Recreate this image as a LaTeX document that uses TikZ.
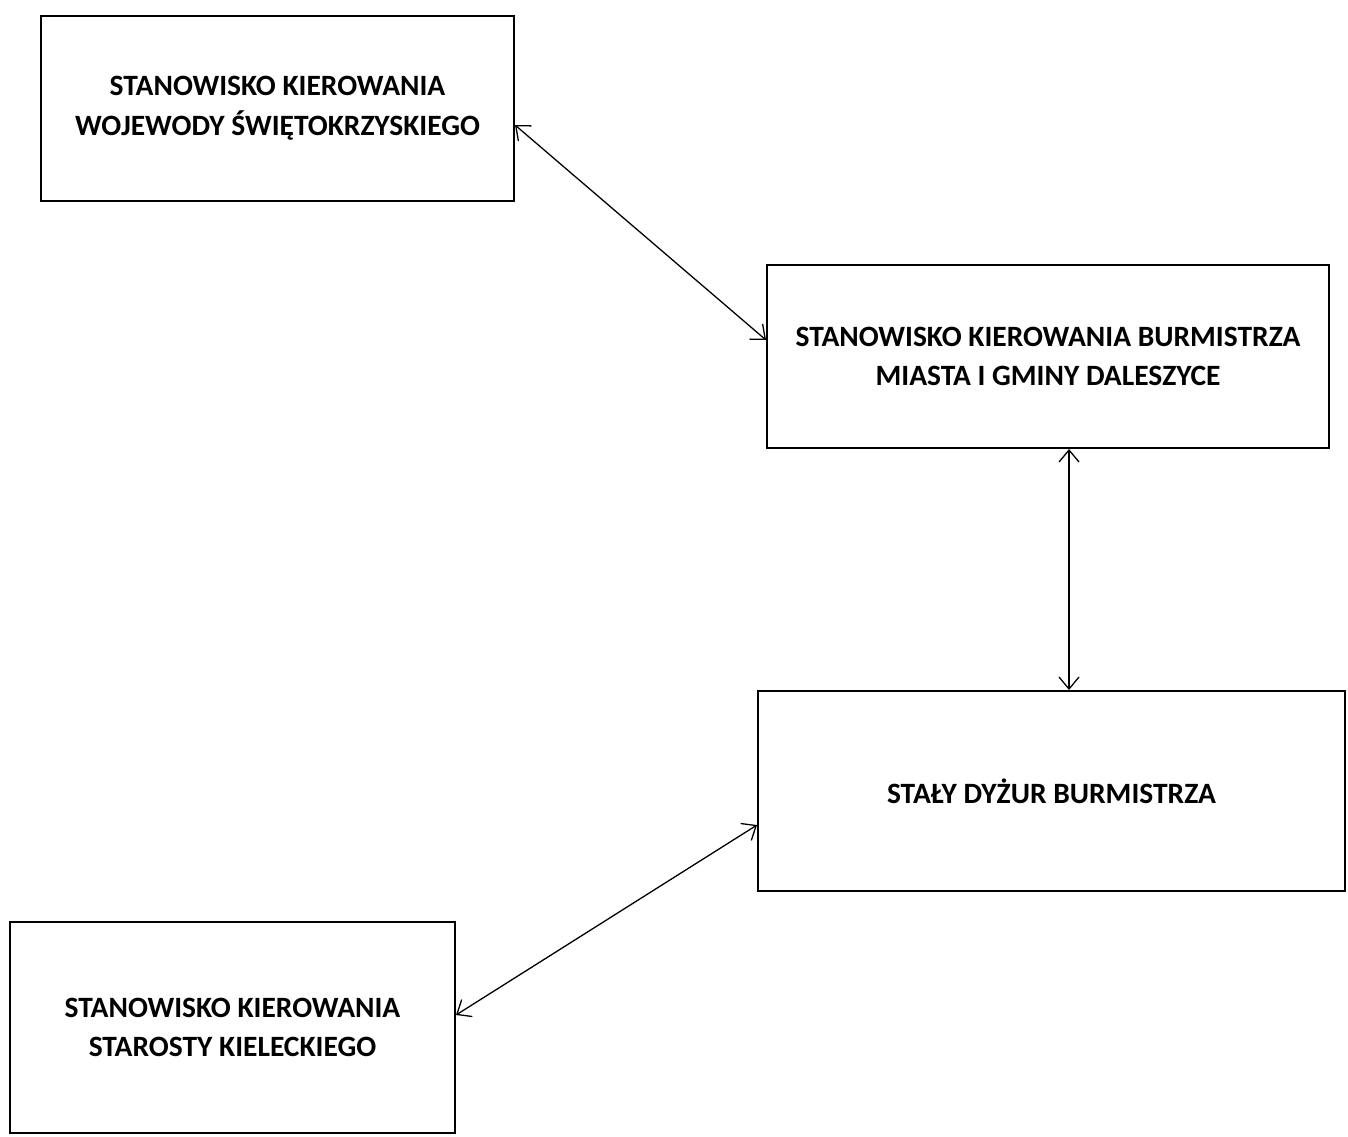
\documentclass[tikz,border=0pt]{standalone}
\usepackage{fontspec}
\setmainfont{Carlito}
\usetikzlibrary{arrows.meta}
\begin{document}
\begin{tikzpicture}[x=1pt,y=-1pt,
  box/.style={draw,line width=2pt,inner sep=0pt,align=center,
    font=\fontsize{29.5}{39.5}\selectfont\bfseries},
  link/.style={line width=1.3pt,{Straight Barb[length=12pt,width=20pt,line width=1.3pt]}-{Straight Barb[length=12pt,width=20pt,line width=1.3pt]}}]
\useasboundingbox (0,0) rectangle (1348,1136);
\node[box,minimum width=473pt,minimum height=185pt] (b1) at (277.5,108) {STANOWISKO KIEROWANIA\\WOJEWODY ŚWIĘTOKRZYSKIEGO};
\node[box,minimum width=562pt,minimum height=183pt] (b2) at (1048,356.5) {STANOWISKO KIEROWANIA BURMISTRZA\\MIASTA I GMINY DALESZYCE};
\node[box,minimum width=587pt,minimum height=200pt] (b3) at (1051.5,791) {STAŁY DYŻUR BURMISTRZA};
\node[box,minimum width=445pt,minimum height=211pt] (b4) at (232.5,1027.5) {STANOWISKO KIEROWANIA\\STAROSTY KIELECKIEGO};
\draw[link] ([yshift=-17pt]b1.east) -- ([yshift=16.5pt]b2.west);
\draw[link] ([xshift=21pt]b2.south) -- ([xshift=17.5pt]b3.north);
\draw[link] ([yshift=-34pt]b3.west) -- ([yshift=12.5pt]b4.east);
\end{tikzpicture}
\end{document}
